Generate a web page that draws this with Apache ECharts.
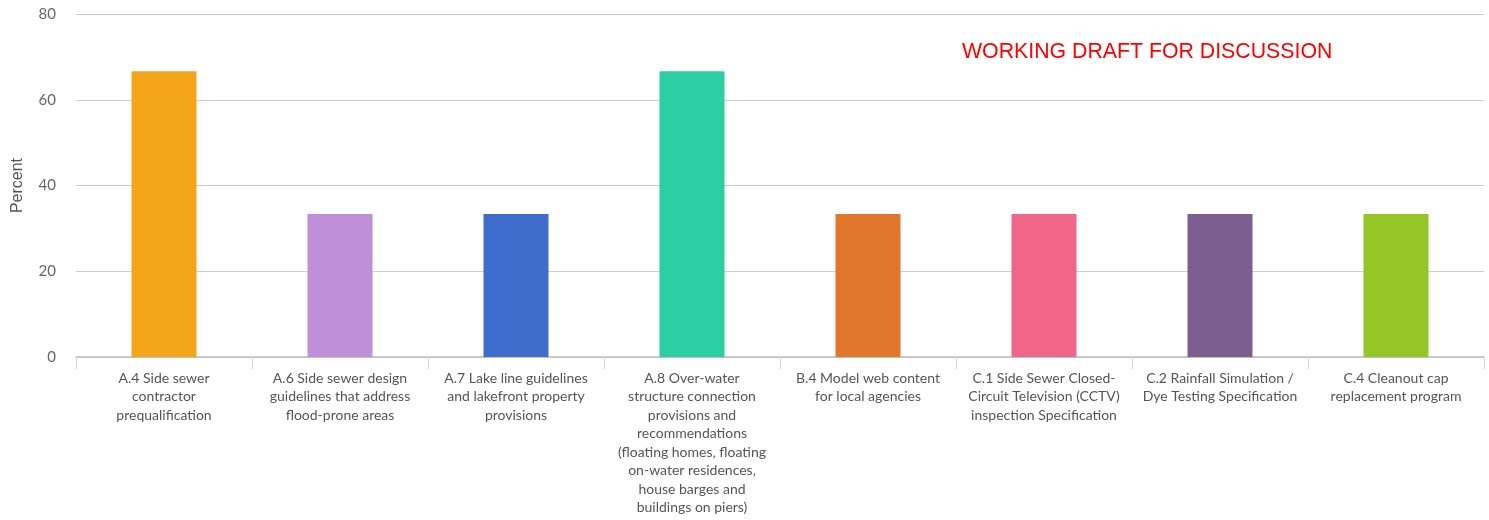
<!DOCTYPE html>
<html>
<head>
<meta charset="utf-8">
<script src="https://cdn.jsdelivr.net/npm/echarts@6/dist/echarts.min.js"></script>
<style>
  html, body { margin: 0; padding: 0; background: #ffffff; }
  #chart { width: 1489px; height: 520px; }
</style>
</head>
<body>
<div id="chart"></div>
<script>
// Recommendation categories (x axis)
const categories = [
  'A.4 Side sewer\ncontractor\nprequalification',
  'A.6 Side sewer design\nguidelines that address\nflood-prone areas',
  'A.7 Lake line guidelines\nand lakefront property\nprovisions',
  'A.8 Over-water\nstructure connection\nprovisions and\nrecommendations\n(floating homes, floating\non-water residences,\nhouse barges and\nbuildings on piers)',
  'B.4 Model web content\nfor local agencies',
  'C.1 Side Sewer Closed-\nCircuit Television (CCTV)\ninspection Specification',
  'C.2 Rainfall Simulation /\nDye Testing Specification',
  'C.4 Cleanout cap\nreplacement program'
];

// Share of respondents, percent
const percentValues = [66.67, 33.33, 33.33, 66.67, 33.33, 33.33, 33.33, 33.33];

// One colour per category
const barColors = ['#f5a51a', '#c08fda', '#3d6ccd', '#2bcfa3', '#e0772c', '#f06688', '#7c5e91', '#94c725'];

// Y axis ticks
const yTicks = [0, 20, 40, 60, 80];

const chart = echarts.init(document.getElementById('chart'), null, { renderer: 'canvas' });

chart.setOption({
  animation: false,
  backgroundColor: '#ffffff',
  grid: { left: 76, right: 5, top: 14, bottom: 163, containLabel: false },
  graphic: [{
    type: 'text',
    left: 962,
    top: 42,
    style: {
      text: 'WORKING DRAFT FOR DISCUSSION',
      fill: '#ff0000',
      font: '21.3px "Liberation Sans", Arial, sans-serif'
    }
  }],
  xAxis: {
    type: 'category',
    data: categories,
    axisLine: { show: true, lineStyle: { color: '#bdbdbd', width: 1.5 } },
    axisTick: { show: true, alignWithLabel: false, length: 12, lineStyle: { color: '#ccd6eb', width: 1 } },
    axisLabel: {
      interval: 0,
      margin: 12,
      color: '#555555',
      fontFamily: 'Lato',
      fontSize: 14,
      lineHeight: 18.5,
      align: 'center',
      verticalAlign: 'top'
    }
  },
  yAxis: {
    type: 'value',
    min: yTicks[0],
    max: yTicks[yTicks.length - 1],
    interval: yTicks[1] - yTicks[0],
    name: 'Percent',
    nameLocation: 'middle',
    nameGap: 50,
    nameRotate: 90,
    nameTextStyle: { color: '#555555', fontFamily: '"Liberation Sans", Arial, sans-serif', fontSize: 16 },
    axisLine: { show: false },
    axisTick: { show: false },
    axisLabel: { color: '#666666', fontFamily: 'Lato', fontSize: 15, margin: 20, padding: [3, 0, 0, 0] },
    splitLine: { show: true, lineStyle: { color: '#cccccc', width: 1 } }
  },
  series: [{
    type: 'bar',
    data: percentValues.map((v, i) => ({ value: v, itemStyle: { color: barColors[i] } })),
    barWidth: 65
  }]
});
</script>
</body>
</html>
